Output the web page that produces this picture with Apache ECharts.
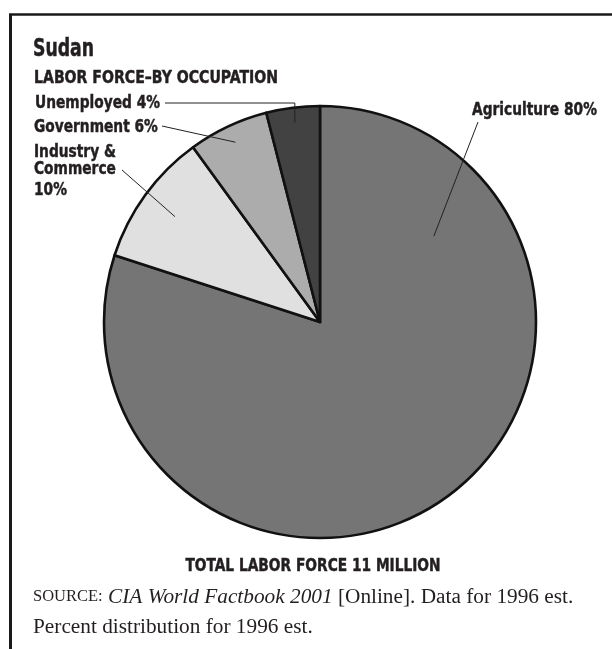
<!DOCTYPE html>
<html>
<head>
<meta charset="utf-8">
<title>Sudan labor force by occupation</title>
<script src="https://cdn.jsdelivr.net/npm/echarts@6/dist/echarts.min.js"></script>
<style>
  html, body { margin: 0; padding: 0; background: #ffffff; }
  #chart { width: 612px; height: 649px; }
</style>
</head>
<body>
<div id="chart"></div>
<script>
// Labor force shares (percent), clockwise from 12 o'clock
var categories = ['Agriculture', 'Industry & Commerce', 'Government', 'Unemployed'];
var shares = [80, 10, 6, 4];
var sliceColors = ['#757575', '#e0e0e0', '#acacac', '#424242'];

var titleText = 'Sudan';
var subtitleText = 'LABOR FORCE\u2013BY OCCUPATION';
var totalText = 'TOTAL LABOR FORCE 11 MILLION';
var sourceLine1 = '{sc|SOURCE:} {it|CIA World Factbook 2001} [Online]. Data for 1996 est.';
var sourceLine2 = 'Percent distribution for 1996 est.';

// Pie geometry in pixels
var CX = 320, CY = 322, R = 216;

// Callouts: leader line starts inside the slice (fraction along the sweep,
// fraction of the radius) and runs to "end"; the label sits at labelX/labelY.
var callouts = [
  { along: 0.184, depth: 0.66, labelX: 472, labelY: 110.5, end: [478, 122] },
  { along: 0.5, depth: 0.83, labelX: 34, labelY: 144, end: [122, 170], wrap: true },
  { along: 0.5, depth: 0.92, labelX: 34, labelY: 127.5, end: [162, 126] },
  { along: 0.5, depth: 0.93, labelX: 35, labelY: 103.5, end: [165, 103], elbow: true }
];

var total = shares.reduce(function (a, b) { return a + b; }, 0);
function anchorPoint(i) {
  var before = 0;
  for (var k = 0; k < i; k++) before += shares[k];
  var c = callouts[i];
  var rad = (before + shares[i] * c.along) / total * 2 * Math.PI;
  return [CX + R * c.depth * Math.sin(rad), CY - R * c.depth * Math.cos(rad)];
}

var condensed = "'DejaVu Sans Condensed', 'DejaVu Sans', sans-serif";
var serif = "'Liberation Serif', 'Times New Roman', serif";
var ink = '#231f20';
var SQUEEZE = 0.85; // horizontal compression for the condensed headline face
var heavy = { stroke: ink, lineWidth: 0.45 }; // thickens the bold strokes a little

function headline(text, size, extra) {
  return Object.assign({
    text: text, fill: ink, font: 'bold ' + size + 'px ' + condensed,
    textAlign: 'left', textVerticalAlign: 'middle'
  }, heavy, extra || {});
}

// Callout labels and leader lines
var calloutGraphics = [];
categories.forEach(function (name, i) {
  var c = callouts[i];
  var a = anchorPoint(i);
  var pts = c.elbow ? [a, [a[0], c.end[1]], c.end] : [a, c.end];
  calloutGraphics.push({
    type: 'polyline', silent: true, z: 10,
    shape: { points: pts },
    style: { stroke: '#222222', lineWidth: 1, fill: null }
  });
  var style;
  if (c.wrap) {
    var parts = name.split(' ');
    var first = parts.slice(0, 2).join(' ');
    var second = parts.slice(2).join(' ');
    style = headline('{n|' + first + '}\n{n|' + second + '}\n{v|' + shares[i] + '%}', 18, {
      textVerticalAlign: 'top',
      rich: {
        n: { fontFamily: condensed, fontWeight: 'bold', fontSize: 18, lineHeight: 17, fill: ink, stroke: ink, lineWidth: 0.45 },
        v: { fontFamily: condensed, fontWeight: 'bold', fontSize: 18, lineHeight: 24, fill: ink, stroke: ink, lineWidth: 0.45 }
      }
    });
  } else {
    style = headline(name + ' ' + shares[i] + '%', 18);
  }
  calloutGraphics.push({ type: 'text', silent: true, z: 10, x: c.labelX, y: c.labelY, scaleX: SQUEEZE, style: style });
});

var chart = echarts.init(document.getElementById('chart'), null, { renderer: 'canvas' });

chart.setOption({
  animation: false,
  backgroundColor: '#ffffff',
  graphic: [
    { type: 'line', silent: true, shape: { x1: 10.5, y1: 14.5, x2: 10.5, y2: 649 }, style: { stroke: '#1a1a1a', lineWidth: 3 } },
    { type: 'line', silent: true, shape: { x1: 9, y1: 14.5, x2: 612, y2: 14.5 }, style: { stroke: '#1a1a1a', lineWidth: 2.5 } },
    { type: 'text', silent: true, x: 33, y: 50, scaleX: 0.8, style: headline(titleText, 24) },
    { type: 'text', silent: true, x: 34, y: 78, scaleX: 0.87, style: headline(subtitleText, 18) },
    { type: 'text', silent: true, x: 313, y: 566, scaleX: SQUEEZE, style: headline(totalText, 18, { textAlign: 'center' }) },
    {
      type: 'text', silent: true, x: 33, y: 597,
      style: {
        text: sourceLine1, fill: ink, font: '21.3px ' + serif, textAlign: 'left', textVerticalAlign: 'middle',
        rich: {
          sc: { fontFamily: serif, fontSize: 16.5, fill: ink },
          it: { fontFamily: serif, fontSize: 21.3, fontStyle: 'italic', fill: ink }
        }
      }
    },
    { type: 'text', silent: true, x: 33, y: 627, style: { text: sourceLine2, fill: ink, font: '21.3px ' + serif, textAlign: 'left', textVerticalAlign: 'middle' } }
  ].concat(calloutGraphics),
  series: [{
    type: 'pie',
    center: [CX, CY],
    radius: [0, R],
    startAngle: 90,
    clockwise: true,
    silent: true,
    emphasis: { disabled: true },
    itemStyle: { borderColor: '#111111', borderWidth: 2.6 },
    label: { show: false },
    labelLine: { show: false },
    data: categories.map(function (name, i) {
      return { name: name, value: shares[i], itemStyle: { color: sliceColors[i] } };
    })
  }]
});
</script>
</body>
</html>
